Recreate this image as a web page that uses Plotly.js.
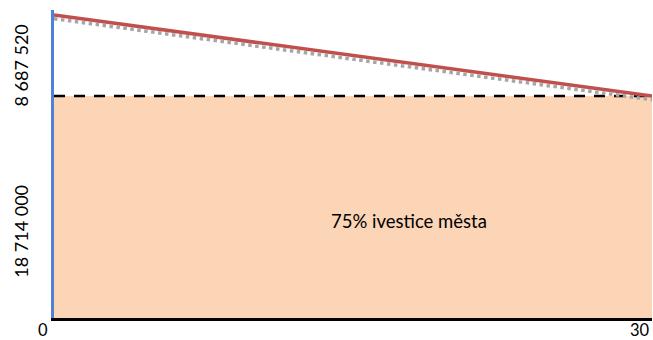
<!DOCTYPE html>
<html><head><meta charset="utf-8">
<script src="https://cdn.plot.ly/plotly-3.0.1.min.js"></script>
<style>body{margin:0;background:#fff}#c{width:653px;height:340px}</style>
</head><body><div id="c"></div>
<script>
const years = [0, 30];
const cityShare = [18714000, 18714000];
const totalLine = [25540000, 18714000];
const shadowLine = [25230000, 18400000];
const tickVals = [7080000, 21070000];
const tickText = ['18 714 000', '8 687 520'];
const xTicks = [0, 30];
const label = '75% ivestice města';

const font = 'Lato, "Open Sans", sans-serif';
const traces = [
  {x: years, y: cityShare, mode: 'lines', fill: 'tozeroy', fillcolor: '#fbd5b5', line: {width: 0}, hoverinfo: 'skip'},
  {x: years, y: cityShare, mode: 'lines', line: {color: '#000', width: 2.5, dash: '11px,9px'}},
  {x: years, y: shadowLine, mode: 'lines', line: {color: '#a6a6a6', width: 3.5, dash: 'dot'}},
  {x: years, y: totalLine, mode: 'lines', line: {color: '#c0504d', width: 3.5}}
];
const xShift = [-11, -12];
const annotations = xTicks.map((v, i) => ({x: v, y: 0, xref: 'x', yref: 'paper', yanchor: 'middle', yshift: -12, xshift: xShift[i],
  text: String(v), showarrow: false, font: {family: font, size: 16.5, color: '#000'}}));
annotations.push({x: 17.8, y: 8177000, xref: 'x', yref: 'y', text: label, showarrow: false, font: {family: font, size: 18.5, color: '#000'}});
const layout = {
  width: 653, height: 340,
  margin: {l: 54, r: 1, t: 10, b: 22},
  paper_bgcolor: '#fff', plot_bgcolor: '#fff',
  showlegend: false,
  xaxis: {range: [0, 30], showticklabels: false, showgrid: false, zeroline: false,
    showline: true, linecolor: '#000', linewidth: 3, ticks: ''},
  yaxis: {range: [0, 25963000], tickvals: tickVals, ticktext: tickText, tickangle: -90, showgrid: false, zeroline: false,
    showline: true, linecolor: '#4f81d9', linewidth: 3, ticks: '', ticklabelstandoff: 16, tickfont: {family: font, size: 18, color: '#000'}},
  annotations: annotations
};
Plotly.newPlot('c', traces, layout, {staticPlot: true});
</script></body></html>
